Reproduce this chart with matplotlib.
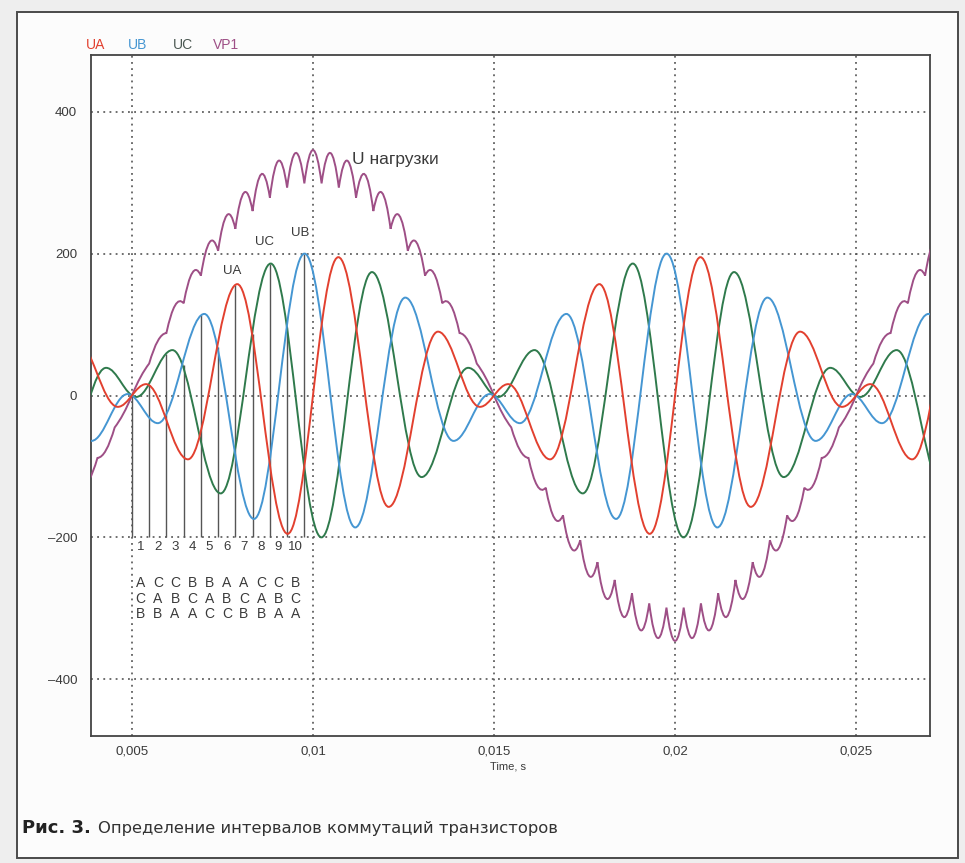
import matplotlib

matplotlib.use("Agg")
import matplotlib.pyplot as plt
from matplotlib.patches import PathPatch, Rectangle
from matplotlib.path import Path

# ---- values (time in s, voltage in V) ----
# turning points of the three phase voltages
UA_T = [0.003452, 0.004610, 0.005390, 0.006548, 0.007910, 0.009300, 0.010700,
        0.012090, 0.013452, 0.014610, 0.015390, 0.016548, 0.017910, 0.019300,
        0.020700, 0.022090, 0.023452, 0.024610, 0.025390, 0.026548, 0.027910]
UA_V = [80, -16, 16, -90, 157, -195, 195, -157, 90, -16, 16, -90, 157, -195,
        195, -157, 90, -16, 16, -90, 157]

UB_T = [0.002548, 0.003881, 0.004881, 0.005714, 0.007000, 0.008371, 0.009767,
        0.011167, 0.012548, 0.013881, 0.014881, 0.015714, 0.017000, 0.018371,
        0.019767, 0.021167, 0.022548, 0.023881, 0.024881, 0.025714, 0.027000,
        0.028371]
UB_V = [138, -64, 2, -39, 115, -174, 200, -186, 138, -64, 2, -39, 115, -174,
        200, -186, 138, -64, 2, -39, 115, -174]

UC_T = [0.003000, 0.004286, 0.005119, 0.006119, 0.007452, 0.008833, 0.010233,
        0.011629, 0.013000, 0.014286, 0.015119, 0.016119, 0.017452, 0.018833,
        0.020233, 0.021629, 0.023000, 0.024286, 0.025119, 0.026119, 0.027452]
UC_V = [-115, 39, -2, 64, -138, 186, -200, 174, -115, 39, -2, 64, -138, 186,
        -200, 174, -115, 39, -2, 64, -138]

# load voltage VP1: cusps (switching instants) and the arc tops between them
VP1_T = [0.003571, 0.004048, 0.004524, 0.005000, 0.005476, 0.005952, 0.006429,
         0.006905, 0.007381, 0.007857, 0.008333, 0.008810, 0.009286, 0.009762,
         0.010238, 0.010714, 0.011190, 0.011667, 0.012143, 0.012619, 0.013095,
         0.013571, 0.014048, 0.014524, 0.015000, 0.015476, 0.015952, 0.016429,
         0.016905, 0.017381, 0.017857, 0.018333, 0.018810, 0.019286, 0.019762,
         0.020238, 0.020714, 0.021190, 0.021667, 0.022143, 0.022619, 0.023095,
         0.023571, 0.024048, 0.024524, 0.025000, 0.025476, 0.025952, 0.026429,
         0.026905, 0.027381]
VP1_CUSP = [-130, -88, -45, 0, 45, 88, 130, 169, 204, 235, 260, 279, 293, 299,
            299, 293, 279, 260, 235, 204, 169, 130, 88, 45, 0, -45, -88, -130,
            -169, -204, -235, -260, -279, -293, -299, -299, -293, -279, -260,
            -235, -204, -169, -130, -88, -45, 0, 45, 88, 130, 169, 204]
VP1_TOP = [-120, -77, -26, 26, 77, 127, 173, 216, 254, 286, 312, 331, 342, 346,
           342, 331, 312, 286, 254, 216, 173, 127, 77, 26, -26, -77, -127, -173,
           -216, -254, -286, -312, -331, -342, -346, -342, -331, -312, -286,
           -254, -216, -173, -127, -77, -26, 26, 77, 127, 173, 216]

# commutation instants 0..10 and the upper end of each marker line
COMM_T = [0.005000, 0.005476, 0.005952, 0.006429, 0.006905, 0.007381,
          0.007857, 0.008333, 0.008810, 0.009286, 0.009762]
COMM_TOP = [0, 15, 59, 43, 113, 68, 156, 87, 186, 97, 199]
COMM_BOTTOM = -200
INTERVALS = ["1", "2", "3", "4", "5", "6", "7", "8", "9", "10"]
ROW_MAX = ["A", "C", "C", "B", "B", "A", "A", "C", "C", "B"]
ROW_MID = ["C", "A", "B", "C", "A", "B", "C", "A", "B", "C"]
ROW_MIN = ["B", "B", "A", "A", "C", "C", "B", "B", "A", "A"]

XTICKS = [0.005, 0.01, 0.015, 0.02, 0.025]
XTICK_LABELS = ["0,005", "0,01", "0,015", "0,02", "0,025"]
YTICKS = [-400, -200, 0, 200, 400]
YTICK_LABELS = ["\u2013400", "\u2013200", "0", "200", "400"]

PEAK_LABELS = ["UA", "UC", "UB"]
PEAK_LABEL_T = [0.00778, 0.00866, 0.00966]
PEAK_LABEL_V = [176, 216, 229]

RED, BLUE, GREEN, PURPLE = "#e2402f", "#4596d2", "#2f7a4c", "#9e4f86"
INK = "#3a3a3a"
FONT = ["Liberation Sans", "DejaVu Sans"]


def wave_path(ts, vs, c=0.364):
    """Smooth curve through turning points (flat tangent at each one)."""
    verts, codes = [(ts[0], vs[0])], [Path.MOVETO]
    for t0, v0, t1, v1 in zip(ts[:-1], vs[:-1], ts[1:], vs[1:]):
        dt = t1 - t0
        verts += [(t0 + c * dt, v0), (t1 - c * dt, v1), (t1, v1)]
        codes += [Path.CURVE4] * 3
    return Path(verts, codes)


def scallop_path(ts, cusps, tops):
    """Arcs between cusps, each passing through its top value at mid-time."""
    verts, codes = [(ts[0], cusps[0])], [Path.MOVETO]
    for i, top in enumerate(tops):
        ctrl = 2 * top - (cusps[i] + cusps[i + 1]) / 2
        verts += [((ts[i] + ts[i + 1]) / 2, ctrl), (ts[i + 1], cusps[i + 1])]
        codes += [Path.CURVE3] * 2
    return Path(verts, codes)


fig = plt.figure(figsize=(9.65, 8.63), dpi=100, facecolor="#eeeeee")
W, H = 965.0, 863.0

# printed page frame
fig.add_artist(Rectangle((17 / W, 1 - 858 / H), 941 / W, 846 / H, transform=fig.transFigure,
                         facecolor="#fcfcfc", edgecolor="#4a4a4a", lw=1.4, zorder=0))

ax = fig.add_axes([91 / W, 1 - 736 / H, 839 / W, 681 / H])
ax.set_facecolor("white")
ax.set_xlim(0.00387, 0.02704)
ax.set_ylim(-480, 480)
ax.set_xticks(XTICKS, XTICK_LABELS, family=FONT, fontsize=9.5, color=INK)
ax.set_yticks(YTICKS, YTICK_LABELS, family=FONT, fontsize=9.5, color=INK)
ax.tick_params(length=0)
ax.tick_params(axis="x", pad=7)
ax.tick_params(axis="y", pad=10)
ax.grid(True, linestyle=(0, (1.1, 2.6)), color="#555555", lw=1.2)
ax.set_axisbelow(True)
for sp in ax.spines.values():
    sp.set_color("#444444")
    sp.set_linewidth(1.3)
fig.text(490 / W, 1 - 766 / H, "Time, s", family=FONT, fontsize=8, color=INK,
         ha="left", va="center")

# commutation marker lines and interval table
ax.vlines(COMM_T, COMM_BOTTOM, COMM_TOP, color="#555555", lw=1.0, zorder=2)
for i, lab in enumerate(INTERVALS):
    tm = (COMM_T[i] + COMM_T[i + 1]) / 2
    ax.text(tm, -214, lab, ha="center", va="center", family=FONT, fontsize=9.5, color=INK)
    for row, yv in ((ROW_MAX, -265), (ROW_MID, -287), (ROW_MIN, -308)):
        ax.text(tm, yv, row[i], ha="center", va="center", family=FONT, fontsize=10, color=INK)

ax.add_patch(PathPatch(scallop_path(VP1_T, VP1_CUSP, VP1_TOP), fill=False,
                       edgecolor=PURPLE, lw=1.4, zorder=3))
for ts, vs, col in ((UC_T, UC_V, GREEN), (UB_T, UB_V, BLUE), (UA_T, UA_V, RED)):
    ax.add_patch(PathPatch(wave_path(ts, vs), fill=False, edgecolor=col, lw=1.4, zorder=4))

for lab, t, v in zip(PEAK_LABELS, PEAK_LABEL_T, PEAK_LABEL_V):
    ax.text(t, v, lab, ha="center", va="center", family=FONT, fontsize=9.5, color=INK)
ax.text(0.01108, 332, "U нагрузки", ha="left", va="center", family=FONT, fontsize=12.5,
        color=INK)

# series names above the plot
for name, x, col in (("UA", 86, RED), ("UB", 128, BLUE), ("UC", 173, "#4b5852"), ("VP1", 213, PURPLE)):
    fig.text(x / W, 1 - 45 / H, name, ha="left", va="center", family=FONT, fontsize=10, color=col)

# caption
cap1 = fig.text(22 / W, 1 - 828 / H, "Рис. 3.", ha="left", va="center", family=["DejaVu Sans"],
                fontsize=13, fontweight="bold", color="#222222")
fig.canvas.draw()
bb = cap1.get_window_extent(fig.canvas.get_renderer())
fig.text((bb.x1 + 7) / W, 1 - 828 / H, "Определение интервалов коммутаций транзисторов",
         ha="left", va="center", family=["DejaVu Sans"], fontsize=11.8, color="#333333")

fig.savefig("out.png", dpi=100, facecolor=fig.get_facecolor())
